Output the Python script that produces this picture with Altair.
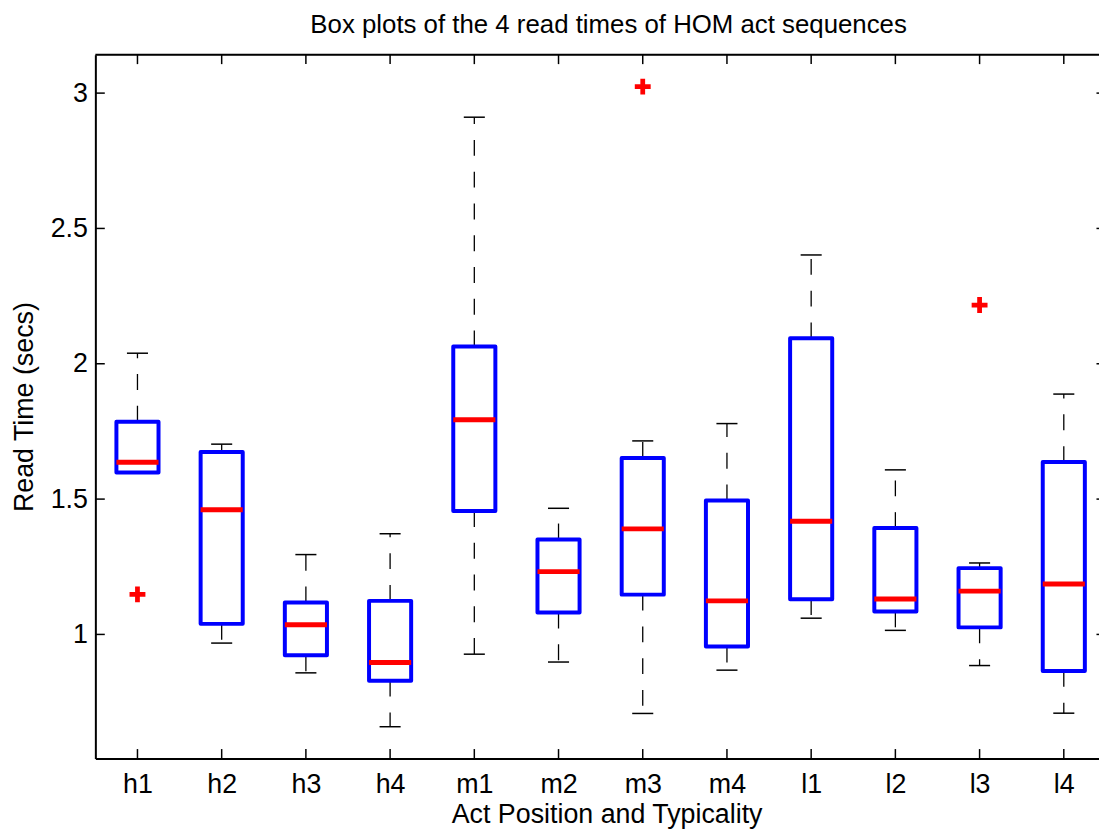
import altair as alt
import pandas as pd

# ---------------- data ----------------
categories = ["h1", "h2", "h3", "h4", "m1", "m2", "m3", "m4", "l1", "l2", "l3", "l4"]
whisker_low = [1.598, 0.968, 0.858, 0.659, 0.927, 0.898, 0.708, 0.868, 1.060, 1.015, 0.885, 0.709]
q1 = [1.598, 1.039, 0.923, 0.829, 1.456, 1.081, 1.147, 0.955, 1.130, 1.085, 1.026, 0.865]
median = [1.636, 1.461, 1.036, 0.896, 1.793, 1.232, 1.390, 1.124, 1.418, 1.131, 1.160, 1.186]
q3 = [1.786, 1.674, 1.118, 1.124, 2.064, 1.351, 1.652, 1.495, 2.094, 1.393, 1.245, 1.637]
whisker_high = [2.039, 1.703, 1.295, 1.372, 2.911, 1.466, 1.715, 1.779, 2.402, 1.608, 1.264, 1.888]
outlier_cat = ["h1", "m3", "l3"]
outlier_val = [1.148, 3.024, 2.217]
y_ticks = [1, 1.5, 2, 2.5, 3]

TITLE = "Box plots of the 4 read times of HOM act sequences"
XTITLE = "Act Position and Typicality"
YTITLE = "Read Time (secs)"

# ---------------- layout / style ----------------
FONT = "Liberation Sans"
FS = 27
W, H = 1011, 709
XMIN, XMAX = 0.5, 12.418
YMIN, YMAX = 0.5415, 3.142
TLX = 0.112   # inward tick length in x units
TLY = 0.0349  # inward tick length in y units
BLUE = "#0000ff"
RED = "#ff0000"

positions = list(range(1, len(categories) + 1))
boxes = pd.DataFrame({
    "pos": positions, "cat": categories, "lo": whisker_low, "q1": q1,
    "med": median, "q3": q3, "hi": whisker_high,
})
outliers = pd.DataFrame({
    "pos": [categories.index(c) + 1 for c in outlier_cat],
    "val": outlier_val,
})
xt = pd.DataFrame({"pos": positions})
yt = pd.DataFrame({"v": y_ticks})
frame = pd.DataFrame({"a": [0]})

label_expr = "[" + ",".join("'%s'" % c for c in categories) + "][datum.value - 1]"

xscale = alt.Scale(domain=[XMIN, XMAX], nice=False, zero=False)
yscale = alt.Scale(domain=[YMIN, YMAX], nice=False, zero=False)

xaxis = alt.Axis(
    values=positions, labelExpr=label_expr, title=XTITLE, grid=False, ticks=False,
    domain=True, domainColor="black", domainWidth=2,
    labelFont=FONT, labelFontSize=FS, labelColor="black", labelPadding=13,
    labelFlush=False, labelOverlap=False,
    titleFont=FONT, titleFontSize=FS, titleFontWeight="normal", titleColor="black",
    titleX=515, titleY=64, titleAlign="center", titleBaseline="alphabetic",
)
yaxis = alt.Axis(
    values=y_ticks, format="~g", title=YTITLE, grid=False, ticks=False,
    domain=True, domainColor="black", domainWidth=2,
    labelFont=FONT, labelFontSize=FS, labelColor="black", labelPadding=8,
    labelOverlap=False, labelFlush=False,
    titleFont=FONT, titleFontSize=FS, titleFontWeight="normal", titleColor="black",
    titleX=-63, titleY=354.5, titleAngle=270, titleAlign="center",
    titleBaseline="alphabetic",
)


def X(field):
    return alt.X(field, type="quantitative", scale=xscale, axis=xaxis)


def Y(field):
    return alt.Y(field, type="quantitative", scale=yscale, axis=yaxis)


# frame top border
top_border = alt.Chart(frame).mark_rule(color="black", strokeWidth=2).encode(
    x=X("x0"), x2="x1", y=Y("y0"),
).transform_calculate(x0=str(XMIN), x1=str(XMAX), y0=str(YMAX))

# inward ticks: bottom & top
bottom_ticks = alt.Chart(xt).mark_rule(color="black", strokeWidth=1.5).encode(
    x=X("pos"), y=Y("y0"), y2="y1",
).transform_calculate(y0=str(YMIN), y1=str(YMIN + TLY))
top_ticks = alt.Chart(xt).mark_rule(color="black", strokeWidth=1.5).encode(
    x=X("pos"), y=Y("y0"), y2="y1",
).transform_calculate(y0=str(YMAX), y1=str(YMAX - TLY))
# inward ticks: left & right
left_ticks = alt.Chart(yt).mark_rule(color="black", strokeWidth=1.5).encode(
    y=Y("v"), x=X("x0"), x2="x1",
).transform_calculate(x0=str(XMIN), x1=str(XMIN + TLX))
right_ticks = alt.Chart(yt).mark_rule(color="black", strokeWidth=1.5).encode(
    y=Y("v"), x=X("x0"), x2="x1",
).transform_calculate(x0=str(12.5 - TLX), x1=str(XMAX))

base = alt.Chart(boxes)
upper_whisker = base.mark_rule(color="black", strokeWidth=1.3, strokeDash=[16, 16]).encode(
    x=X("pos"), y=Y("q3"), y2="hi",
)
lower_whisker = base.mark_rule(color="black", strokeWidth=1.3, strokeDash=[16, 16]).encode(
    x=X("pos"), y=Y("q1"), y2="lo",
)
upper_cap = base.mark_rule(color="black", strokeWidth=1.5).encode(
    x=X("xl"), x2="xr", y=Y("hi"),
).transform_calculate(xl="datum.pos - 0.125", xr="datum.pos + 0.125")
lower_cap = base.mark_rule(color="black", strokeWidth=1.5).encode(
    x=X("xl"), x2="xr", y=Y("lo"),
).transform_calculate(xl="datum.pos - 0.125", xr="datum.pos + 0.125")
box = base.mark_rect(
    fill="white", fillOpacity=0, stroke=BLUE, strokeWidth=4, strokeJoin="round",
).encode(
    x=X("bl"), x2="br", y=Y("q1"), y2="q3",
).transform_calculate(bl="datum.pos - 0.25", br="datum.pos + 0.25")
med = base.mark_rule(color=RED, strokeWidth=5).encode(
    x=X("bl"), x2="br", y=Y("med"),
).transform_calculate(bl="datum.pos - 0.25", br="datum.pos + 0.25")

plus_path = "M-0.3,-1H0.3V-0.3H1V0.3H0.3V1H-0.3V0.3H-1V-0.3H-0.3Z"
outl = alt.Chart(outliers).mark_point(
    shape=plus_path, filled=True, color=RED, opacity=1, size=256, strokeWidth=0,
).encode(x=X("pos"), y=Y("val"))

chart = alt.layer(
    top_border, bottom_ticks, top_ticks, left_ticks, right_ticks,
    upper_whisker, lower_whisker, upper_cap, lower_cap, box, med, outl,
).properties(
    width=W, height=H,
    title=alt.TitleParams(
        TITLE, font=FONT, fontSize=26, fontWeight="normal", color="black",
        anchor="middle", frame="group", dx=11.5, offset=-5, baseline="alphabetic",
    ),
    autosize=alt.AutoSizeParams(type="none"),
    padding={"left": 88, "top": 44, "right": 0, "bottom": 71},
).configure_view(strokeWidth=0).configure(background="white")

chart.save("out.html", embed_options={"renderer": "svg", "actions": False})
